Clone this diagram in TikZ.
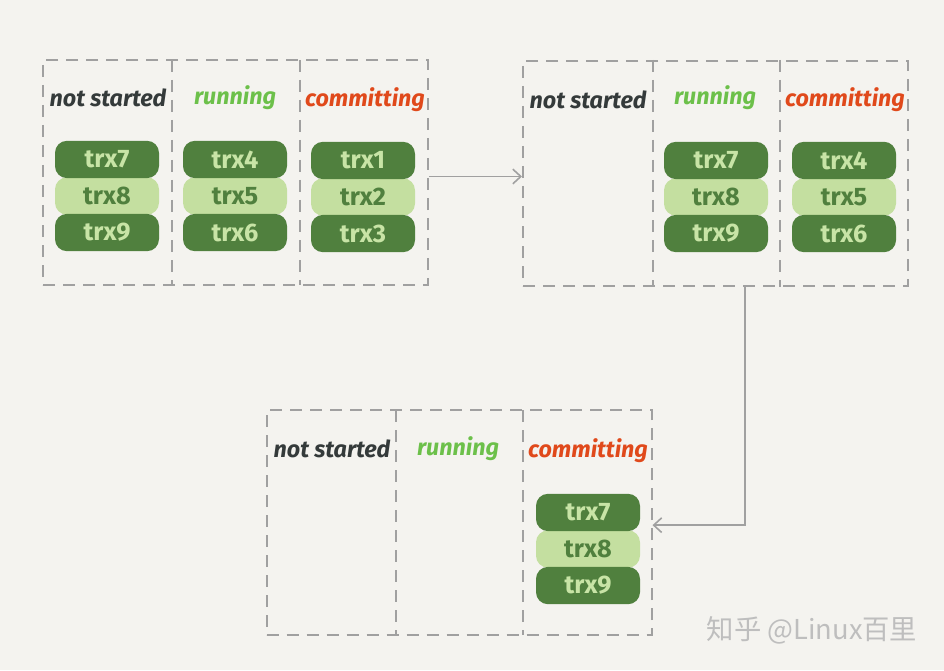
\documentclass[tikz,border=0pt]{standalone}
\usepackage{fontspec}
\setmainfont{Fira Sans}
\newfontfamily\cjkfont{Noto Sans CJK SC}
\usepackage{xcolor}
\usepackage{tikz}
\usetikzlibrary{arrows.meta, positioning, calc}
\definecolor{paperbg}{RGB}{244,243,239}
\definecolor{dashgray}{RGB}{160,160,160}
\definecolor{pilldark}{RGB}{80,128,62}
\definecolor{pilllight}{RGB}{196,223,160}
\definecolor{txtlight}{RGB}{200,228,166}
\definecolor{notstartedc}{RGB}{52,58,58}
\definecolor{runningc}{RGB}{108,192,74}
\definecolor{committingc}{RGB}{224,73,27}
\definecolor{markgray}{RGB}{190,190,190}
\tikzset{
  panel/.style={
    draw=dashgray,
    line width=1.5pt,
    dash pattern=on 9pt off 6pt,
    minimum width=288.75pt,
    minimum height=168.75pt,
    inner sep=0pt
  },
  divider/.style={draw=dashgray, line width=1.5pt, dash pattern=on 9pt off 6pt},
  colhead/.style={font=\fontsize{17.5}{20}\selectfont\bfseries\itshape, inner sep=0pt},
  darkpill/.style={
    fill=pilldark,
    rounded corners=9pt,
    minimum width=78pt,
    minimum height=28pt,
    inner sep=0pt,
    text=txtlight,
    font=\fontsize{19}{22}\selectfont\bfseries
  },
  lightpill/.style={
    darkpill,
    fill=pilllight,
    text=pilldark
  },
  flow/.style={->, draw=dashgray, line width=1.2pt, >={Straight Barb[length=6pt,width=11pt]}}
}

\begin{document}
\begin{tikzpicture}[x=0.75pt, y=-0.75pt]
\fill[paperbg] (0,0) rectangle (944,670);
\useasboundingbox (0,0) rectangle (944,670);

% three snapshots of the transaction table
\node[panel] (p1) at (235.5,172.5) {};
\node[panel] (p2) at (715.5,173.5) {};
\node[panel] (p3) at (459,522.5) {};

\draw[divider] (172,60) -- (172,285);
\draw[divider] (300,60) -- (300,285);
\draw[divider] (653,60) -- (653,287);
\draw[divider] (780,60) -- (780,287);
\draw[divider] (396,410) -- (396,635);
\draw[divider] (523,410) -- (523,635);

% column headings
\node[colhead, text=notstartedc] (h11) at (108,98) {not started};
\node[colhead, text=runningc] (h12) at (235,98) {running};
\node[colhead, text=committingc] (h13) at (365,100) {committing};
\node[colhead, text=notstartedc] (h21) at (588,100) {not started};
\node[colhead, text=runningc] (h22) at (715,98) {running};
\node[colhead, text=committingc] (h23) at (845,100) {committing};
\node[colhead, text=notstartedc] (h31) at (332,449) {not started};
\node[colhead, text=runningc] (h32) at (458,449) {running};
\node[colhead, text=committingc] (h33) at (588,451) {committing};

% first snapshot
\node[lightpill] (a8) at (107,196) {trx8};
\node[darkpill, above=-1pt of a8] (a7) {trx7};
\node[darkpill, below=-1pt of a8] (a9) {trx9};
\node[lightpill] (a5) at (235,196) {trx5};
\node[darkpill, above=-1pt of a5] (a4) {trx4};
\node[darkpill, below=-1pt of a5] (a6) {trx6};
\node[lightpill] (a2) at (363,197) {trx2};
\node[darkpill, above=-1pt of a2] (a1) {trx1};
\node[darkpill, below=-1pt of a2] (a3) {trx3};

% second snapshot
\node[lightpill] (b8) at (716,197) {trx8};
\node[darkpill, above=-1pt of b8] (b7) {trx7};
\node[darkpill, below=-1pt of b8] (b9) {trx9};
\node[lightpill] (b5) at (844,197) {trx5};
\node[darkpill, above=-1pt of b5] (b4) {trx4};
\node[darkpill, below=-1pt of b5] (b6) {trx6};

% third snapshot
\node[lightpill] (c8) at (588,549) {trx8};
\node[darkpill, above=-1pt of c8] (c7) {trx7};
\node[darkpill, below=-1pt of c8] (c9) {trx9};

\draw[flow] ([yshift=-3pt]p1.east) -- ([yshift=-3pt]p1.east -| p2.west);
\draw[flow] ([xshift=22pt]p2.south) |- ([yshift=-2pt]p3.east);

\node[text=markgray, font=\cjkfont\fontsize{20.5}{24}\selectfont] (mark) at (812,630) {知乎 @Linux百里};
\end{tikzpicture}
\end{document}
